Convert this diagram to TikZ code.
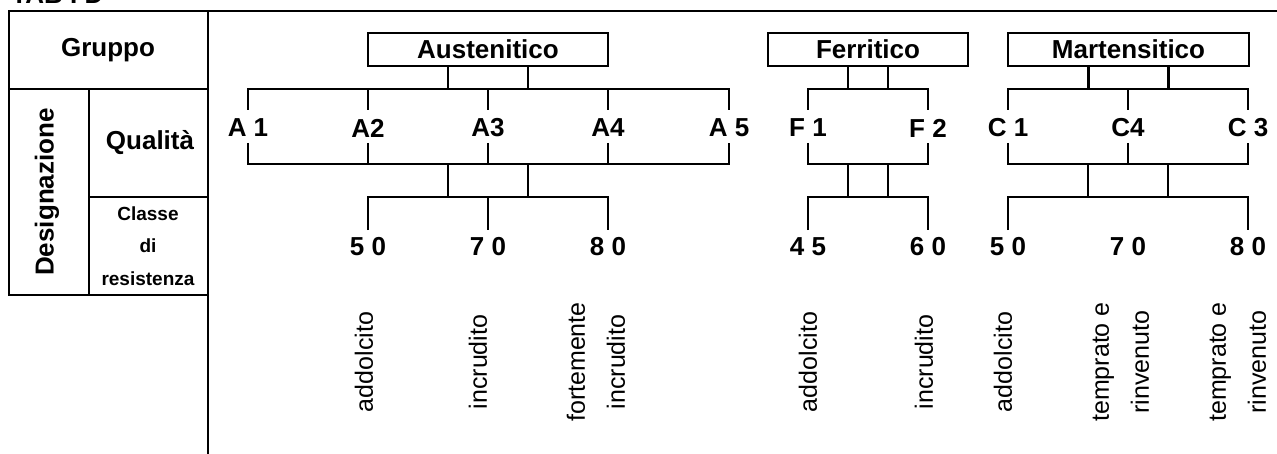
\documentclass[tikz,border=0pt]{standalone}
\usepackage{fontspec}
\setmainfont{Liberation Sans}
\usetikzlibrary{positioning}

\begin{document}
\begin{tikzpicture}[x=0.5pt, y=-0.5pt, line width=1.4pt,
  head/.style={font=\fontsize{13}{15}\selectfont\bfseries, inner sep=0pt},
  grpbox/.style={draw, minimum height=16.5pt, inner sep=0pt, font=\fontsize{13}{15}\selectfont\bfseries},
  lab/.style={font=\fontsize{13}{15}\selectfont\bfseries, inner sep=0pt},
  cls/.style={font=\fontsize{9.5}{16.25}\selectfont\bfseries, align=center, inner sep=0pt},
  note/.style={rotate=90, align=center, inner sep=0pt, font=\fontsize{12.5}{20}\selectfont}]
  \clip (0,0) rectangle (1277,454);

  % Table title, cut at the top
  \node[head, anchor=base west] (tab) at (10,4) {TAB I D};

  % Left side: row captions
  \draw (1280,11) -- (9,11) -- (9,295) -- (208,295);
  \draw (208,11) -- (208,460);
  \draw (9,89) -- (208,89);
  \draw (89,89) -- (89,295);
  \draw (89,197) -- (208,197);
  \node[head] (gruppo) at (108,50) {Gruppo};
  \node[head, rotate=90] (design) at (47,192) {Designazione};
  \node[head] (qual) at (150,143) {Qualità};
  \node[cls] (classe) at (148,246) {Classe\\di\\resistenza};

  % Groups
  \node[grpbox, minimum width=120pt] (aus) at (488,49.5) {Austenitico};
  \node[grpbox, minimum width=100pt] (fer) at (868,49.5) {Ferritico};
  \node[grpbox, minimum width=120.5pt] (mar) at (1128.5,49.5) {Martensitico};
  \draw ([xshift=-20pt]aus.south) -- ++(0,23) ([xshift=20pt]aus.south) -- ++(0,23);
  \draw ([xshift=-10pt]fer.south) -- ++(0,23) ([xshift=10pt]fer.south) -- ++(0,23);
  \draw ([xshift=-20pt]mar.south) -- ++(0,23) ([xshift=20pt]mar.south) -- ++(0,23);

  % Qualita: brackets above and below the labels
  \draw (248,110) -- (248,89) -- (729,89) -- (729,110);
  \draw (248,143) -- (248,164) -- (729,164) -- (729,143);
  \draw (808,110) -- (808,89) -- (928,89) -- (928,110);
  \draw (808,143) -- (808,164) -- (928,164) -- (928,143);
  \draw (1008,110) -- (1008,89) -- (1248,89) -- (1248,110);
  \draw (1008,143) -- (1008,164) -- (1248,164) -- (1248,143);
  \foreach \x in {368,488,608,1128}
    \draw (\x,89) -- (\x,110) (\x,143) -- (\x,164);

  \foreach \x/\n/\t in {248/a1/A 1, 368/a2/A2, 488/a3/A3, 608/a4/A4, 729/a5/A 5,
                        808/f1/F 1, 928/f2/F 2, 1008/c1/C 1, 1128/c4/C4, 1248/c3/C 3}
    \node[lab] (\n) at (\x,128) {\t};

  % Classe di resistenza
  \foreach \x in {448,528,848,888,1088,1168}
    \draw (\x,164) -- (\x,197);
  \draw (368,230) -- (368,197) -- (608,197) -- (608,230);
  \draw (488,197) -- (488,230);
  \draw (808,230) -- (808,197) -- (928,197) -- (928,230);
  \draw (1008,230) -- (1008,197) -- (1248,197) -- (1248,230);

  \foreach \x/\n/\t in {368/k50/5 0, 488/k70/7 0, 608/k80/8 0, 808/k45/4 5,
                        928/k60/6 0, 1008/m50/5 0, 1128/m70/7 0, 1248/m80/8 0}
    \node[lab] (\n) at (\x,247) {\t};

  % States
  \node[note] (n1) at (364,362) {addolcito};
  \node[note] (n2) at (478,362) {incrudito};
  \node[note] (n3) at (596,362) {fortemente\\incrudito};
  \node[note] (n4) at (808,362) {addolcito};
  \node[note] (n5) at (924,362) {incrudito};
  \node[note] (n6) at (1003,362) {addolcito};
  \node[note] (n7) at (1121,362) {temprato e\\rinvenuto};
  \node[note] (n8) at (1238,362) {temprato e\\rinvenuto};
\end{tikzpicture}
\end{document}
